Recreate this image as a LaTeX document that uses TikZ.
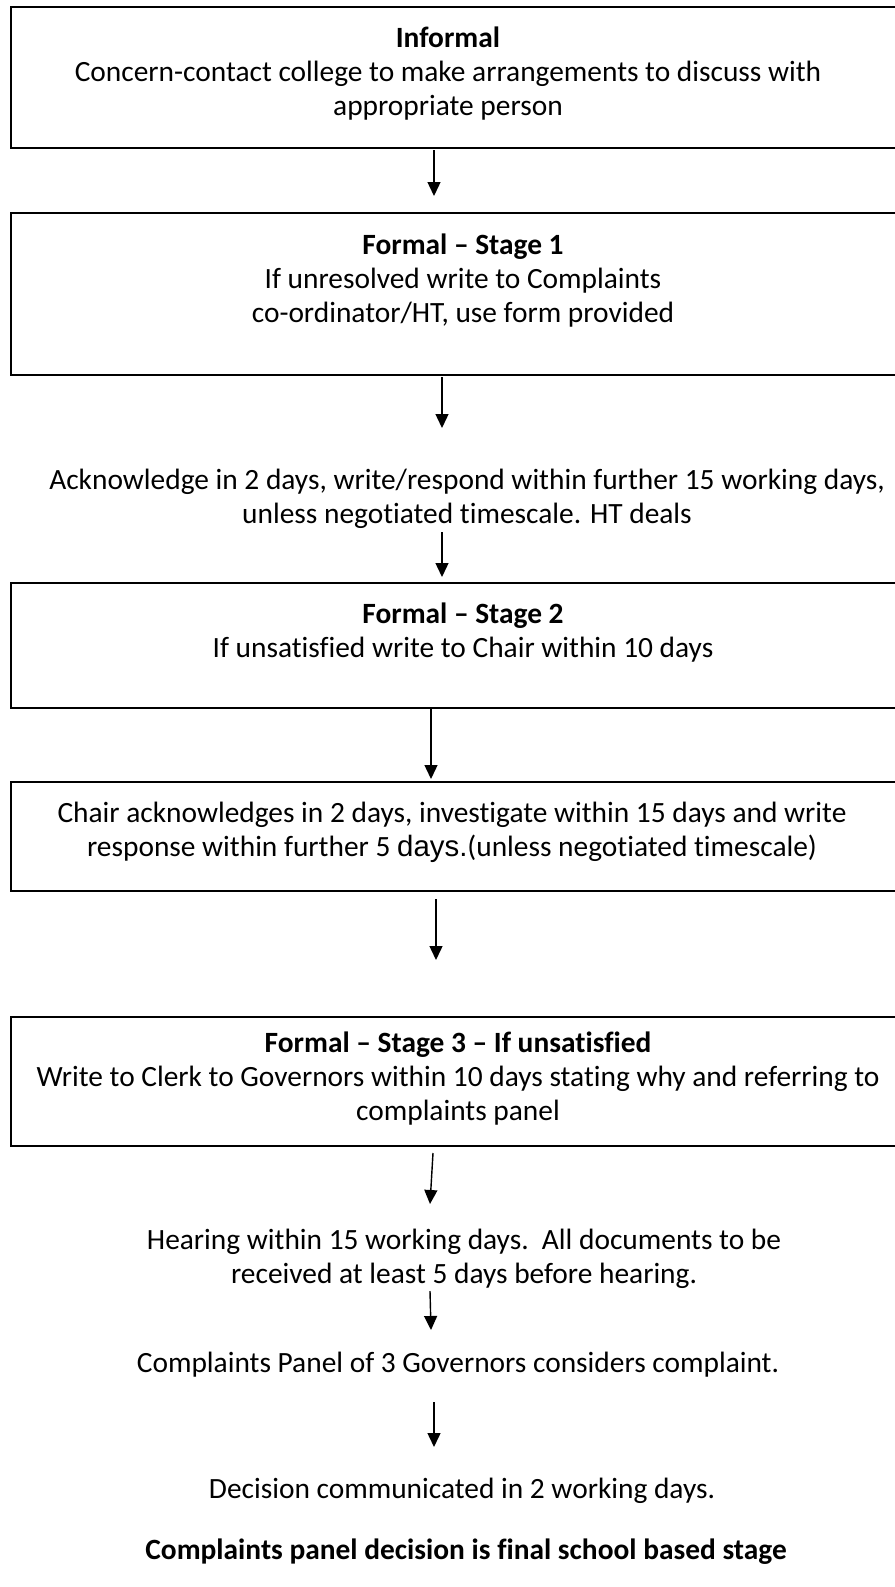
\documentclass[tikz,border=0pt]{standalone}
\usepackage{fontspec}
\setmainfont[Ligatures=NoCommon]{Carlito}
\newfontfamily\arialish{Liberation Sans}
\usetikzlibrary{arrows.meta}
\tikzset{
  box/.style={draw, line width=2pt, rectangle, minimum width=890pt, anchor=north west, inner sep=0pt},
  txt/.style={align=center, inner sep=0pt, font=\fontsize{29.4}{34}\selectfont},
  arr/.style={line width=1.4pt, -{Triangle[length=14pt,width=13pt]}}
}
\begin{document}
\begin{tikzpicture}[x=1pt,y=-1pt]
\useasboundingbox (0,0) rectangle (894,1587);
% boxes
\node[box, minimum height=141pt] (b1) at (10,6) {};
\node[box, minimum height=162pt] (b2) at (10,212) {};
\node[box, minimum height=125pt] (b3) at (10,582) {};
\node[box, minimum height=109pt] (b4) at (10,781) {};
\node[box, minimum height=129pt] (b5) at (10,1016) {};
% texts
\node[txt] (t1) at (448,74) {\textbf{Informal}\\Concern-contact college to make arrangements to discuss with\\appropriate person};
\node[txt] (t2) at (463,281) {\textbf{Formal – Stage 1}\\If unresolved write to Complaints\\co-ordinator/HT, use form provided};
\node[txt] (t3) at (467,499) {Acknowledge in 2 days, write/respond within further 15 working days,\\unless negotiated timescale. HT deals};
\node[txt] (t4) at (463,633) {\textbf{Formal – Stage 2}\\If unsatisfied write to Chair within 10 days};
\node[txt] (t5) at (452,832) {Chair acknowledges in 2 days, investigate within 15 days and write\\response within further 5 {\arialish\fontsize{29.4}{34}\selectfont days.}(unless negotiated timescale)};
\node[txt] (t6) at (458,1079) {\textbf{Formal – Stage 3 – If unsatisfied}\\Write to Clerk to Governors within 10 days stating why and referring to\\complaints panel};
\node[txt] (t7) at (464,1259) {Hearing within 15 working days.\ \ All documents to be\\received at least 5 days before hearing.};
\node[txt] (t8) at (458,1365) {Complaints Panel of 3 Governors considers complaint.};
\node[txt] (t9) at (462,1491) {Decision communicated in 2 working days.};
\node[txt] (t10) at (466,1552) {\textbf{Complaints panel decision is final school based stage}};
% arrow end points
\coordinate (a1s) at (434,150); \coordinate (a1e) at (434,196);
\coordinate (a2s) at (442,377); \coordinate (a2e) at (442,428);
\coordinate (a3s) at (442,532); \coordinate (a3e) at (442,577);
\coordinate (a4s) at (431,709); \coordinate (a4e) at (431,779);
\coordinate (a5s) at (436,899); \coordinate (a5e) at (436,960);
\coordinate (a6s) at (433,1153); \coordinate (a6e) at (430,1204);
\coordinate (a7s) at (430,1291); \coordinate (a7e) at (431,1330);
\coordinate (a8s) at (434,1402); \coordinate (a8e) at (434,1447);
\foreach \i in {1,...,8} { \draw[arr] (a\i s) -- (a\i e); }
\end{tikzpicture}
\end{document}
